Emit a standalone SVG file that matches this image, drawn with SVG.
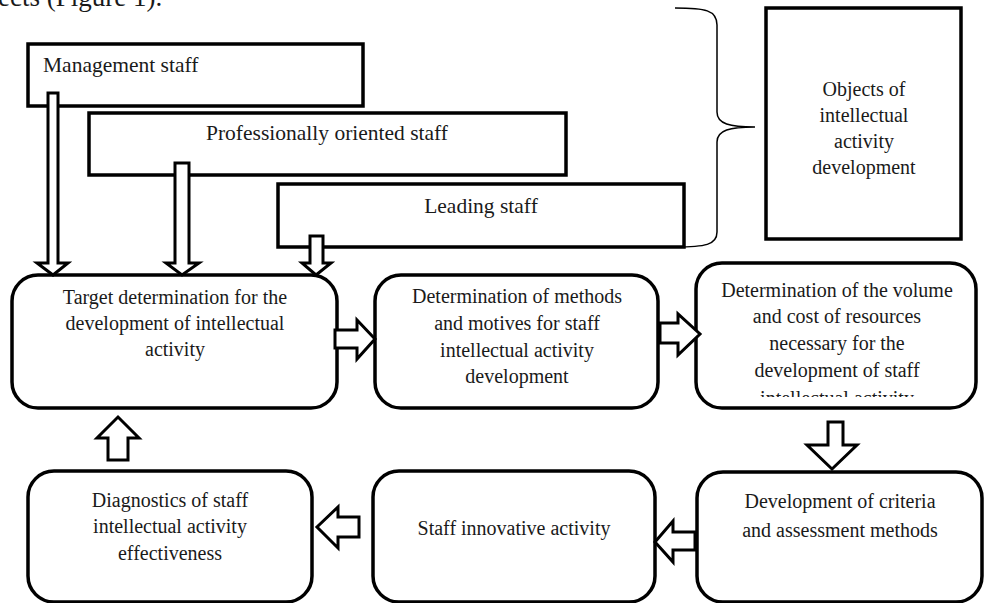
<svg xmlns="http://www.w3.org/2000/svg" width="985" height="603" viewBox="0 0 985 603">
<style>
.box{fill:#fff;stroke:#000;stroke-width:3.5}
.arr{fill:#fff;stroke:#000;stroke-width:3;stroke-linejoin:miter}
.t{font-family:"Liberation Serif","Times New Roman",serif;font-size:20px;fill:#1a1a1a;text-anchor:middle}
.ts{font-family:"Liberation Serif","Times New Roman",serif;font-size:21.5px;fill:#1a1a1a}
.brace{fill:none;stroke:#000;stroke-width:1.5}
</style>
<defs>
<clipPath id="clip3"><rect x="690" y="255" width="295" height="142"/></clipPath>
</defs>
<rect width="985" height="603" fill="#fff"/>
<text x="-2" y="6" style="font-family:'Liberation Serif','Times New Roman',serif;font-size:27px;fill:#1a1a1a">ects (Figure 1).</text>

<g id="brace"><path class="brace" d="M675,8 C705,8 717,10 717,25 L717,112 C717,124 730,127 755,127 C730,127 717,130 717,142 L717,232 C717,245 705,247 675,247"/></g>

<g id="objects"><rect class="box" x="766" y="8" width="195" height="231"/>
<text class="t" x="864" y="96">Objects of</text>
<text class="t" x="864" y="122">intellectual</text>
<text class="t" x="864" y="148">activity</text>
<text class="t" x="864" y="174">development</text></g>

<g id="management"><rect class="box" x="28" y="44" width="335" height="62"/>
<text class="ts" x="43" y="72">Management staff</text></g>
<g id="professional"><rect class="box" x="89" y="113" width="477" height="62"/>
<text class="ts" x="327" y="140" text-anchor="middle">Professionally oriented staff</text></g>
<g id="leading"><rect class="box" x="278" y="184" width="406" height="63"/>
<text class="ts" x="481" y="213" text-anchor="middle">Leading staff</text></g>

<g id="target"><rect class="box" x="12" y="275" width="325" height="133" rx="26"/>
<text class="t" x="175" y="304">Target determination for the</text>
<text class="t" x="175" y="330">development of intellectual</text>
<text class="t" x="175" y="356">activity</text></g>

<g id="methods"><rect class="box" x="375" y="275" width="283" height="133" rx="26"/>
<text class="t" x="517" y="303">Determination of methods</text>
<text class="t" x="517" y="330">and motives for staff</text>
<text class="t" x="517" y="357">intellectual activity</text>
<text class="t" x="517" y="383">development</text></g>

<g id="resources"><rect class="box" x="696" y="263" width="280" height="145" rx="26"/>
<g clip-path="url(#clip3)">
<text class="t" x="837" y="297">Determination of the volume</text>
<text class="t" x="837" y="323">and cost of resources</text>
<text class="t" x="837" y="350">necessary for the</text>
<text class="t" x="837" y="377">development of staff</text>
<text class="t" x="837" y="405">intellectual activity</text></g></g>

<g id="diagnostics"><rect class="box" x="28" y="471" width="284" height="131" rx="26"/>
<text class="t" x="170" y="507">Diagnostics of staff</text>
<text class="t" x="170" y="533">intellectual activity</text>
<text class="t" x="170" y="560">effectiveness</text></g>

<g id="innovative"><rect class="box" x="373" y="471" width="282" height="131" rx="26"/>
<text class="t" x="514" y="535">Staff innovative activity</text></g>

<g id="criteria"><rect class="box" x="697" y="472" width="285" height="130" rx="26"/>
<text class="t" x="840" y="508">Development of criteria</text>
<text class="t" x="840" y="537">and assessment methods</text></g>

<g id="connectors">
<path class="arr" d="M48,93 H58 V263 H68 L53,275 L37,263 H48 Z"/>
<path class="arr" d="M175,163 H189 V263 H199 L182,275 L166,263 H175 Z"/>
<path class="arr" d="M310,236 H323 V263 H331 L316,275 L302,263 H310 Z"/>
<path class="arr" d="M335,330 H357 V320 L375,339 L357,359 V348 H335 Z"/>
<path class="arr" d="M660,323 H678 V314 L700,334 L678,355 V343 H660 Z"/>
<path class="arr" d="M828,422 H843 V445 H857 L832,469 L807,445 H828 Z"/>
<path class="arr" d="M695,532 H673 V521 L655,542 L673,562 V550 H695 Z"/>
<path class="arr" d="M359,517 H338 V507 L317,527 L338,548 V537 H359 Z"/>
<path class="arr" d="M108,460 V438 H97 L118,417 L139,438 H128 V460 Z"/>
</g>
</svg>
